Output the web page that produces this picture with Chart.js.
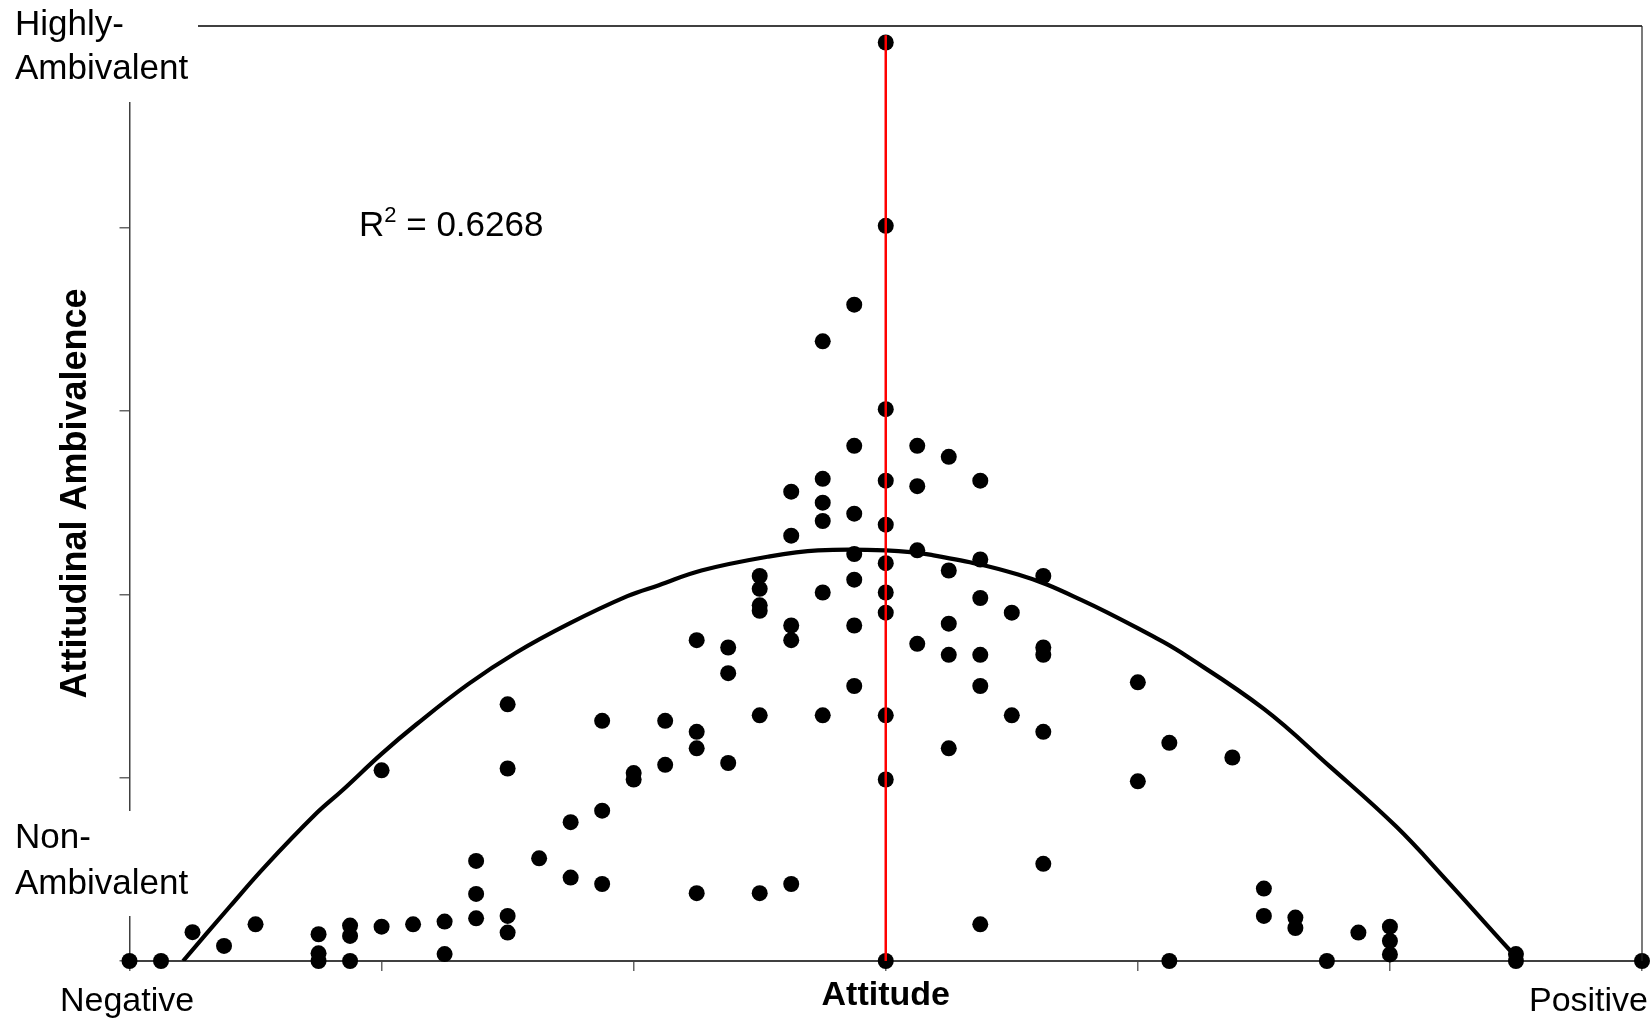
<!DOCTYPE html>
<html>
<head>
<meta charset="utf-8">
<script src="https://cdn.jsdelivr.net/npm/chart.js@4/dist/chart.umd.min.js"></script>
<style>
html,body{margin:0;padding:0;background:#fff;}
canvas{display:block;}
</style>
</head>
<body>
<canvas id="c" width="1650" height="1019"></canvas>
<script>
// ---- data (attitude in 1/8 steps, ambivalence in tick units) ----
const attitude = [
  -24,-23,-22,-21,-20,
  -18,-18,-18,
  -17,-17,-17,
  -16,-16,
  -15,
  -14,-14,
  -13,-13,-13,
  -12,-12,-12,-12,
  -11,
  -10,-10,
  -9,-9,-9,
  -8,-8,
  -7,-7,
  -6,-6,-6,-6,
  -5,-5,-5,
  -4,-4,-4,-4,-4,-4,
  -3,-3,-3,-3,-3,
  -2,-2,-2,-2,-2,-2,
  -1,-1,-1,-1,-1,-1,-1,
  0,0,0,0,0,0,0,0,0,0,0,
  1,1,1,1,
  2,2,2,2,2,
  3,3,3,3,3,3,
  4,4,
  5,5,5,5,5,
  8,8,
  9,9,
  11,
  12,12,
  13,13,
  14,
  15,
  16,16,16,
  20,20,
  24
];
const ambivalence = [
  0,0,0.157,0.082,0.20,
  0.146,0.042,0,
  0.193,0.137,0,
  0.187,1.04,
  0.20,
  0.215,0.038,
  0.546,0.366,0.233,
  1.40,1.05,0.246,0.155,
  0.56,
  0.757,0.455,
  1.31,0.82,0.42,
  1.025,0.99,
  1.31,1.07,
  1.75,1.25,1.16,0.37,
  1.71,1.57,1.08,
  2.10,2.03,1.94,1.91,1.34,0.37,
  2.56,2.32,1.83,1.75,0.42,
  3.38,2.63,2.50,2.40,2.01,1.34,
  3.58,2.81,2.44,2.22,2.08,1.83,1.50,
  5.01,4.01,3.01,2.62,2.38,2.17,2.01,1.90,1.34,0.99,0,
  2.81,2.59,2.24,1.73,
  2.75,2.13,1.84,1.67,1.16,
  2.62,2.19,1.98,1.67,1.50,0.20,
  1.90,1.34,
  2.10,1.71,1.67,1.25,0.53,
  1.52,0.98,
  1.19,0,
  1.11,
  0.395,0.246,
  0.237,0.18,
  0,
  0.155,
  0.187,0.109,0.036,
  0.038,0,
  0
];
// trend curve
const trendX = [-22.3,-20.8,-19.7,-18.1,-17.25,-16,-14.9,-13.25,-11.75,-10.05,-8.2,-7.2,-5.85,-3.75,-2.15,0,1.45,4.2,6.2,8.6,9.35,12,14.1,16.2,17.8,19.8,20];
const trendY = [0,0.3,0.515,0.8,0.93,1.13,1.29,1.51,1.68,1.84,1.99,2.05,2.13,2.205,2.24,2.24,2.215,2.108,1.97,1.76,1.685,1.375,1.06,0.733,0.44,0.06,0.03];
// red reference line at neutral attitude
const refX = [0, 0];
const refY = [0, 5.05];
// axis ticks
const xTicks = [-24,-16,-8,0,8,16,24];
const yTicks = [0,1,2,3,4,5];
// texts
const xTitle = 'Attitude';
const yTitle = 'Attitudinal Ambivalence';
const topLabel = ['Highly-', 'Ambivalent'];
const bottomLabel = ['Non-', 'Ambivalent'];
const negLabel = 'Negative';
const posLabel = 'Positive';
const r2Parts = ['R', '2', ' = 0.6268'];

const toPts = (xs, ys) => xs.map((x, i) => ({x: x, y: ys[i]}));
const FONT = "'Liberation Sans', Arial, Helvetica, sans-serif";

const decor = {
  id: 'decor',
  afterDraw(chart) {
    const ctx = chart.ctx;
    const a = chart.chartArea;
    ctx.save();
    // top and right frame
    ctx.strokeStyle = '#000';
    ctx.lineWidth = 1.5;
    ctx.beginPath(); ctx.moveTo(a.left, a.top); ctx.lineTo(a.right, a.top); ctx.stroke();
    ctx.strokeStyle = '#222';
    ctx.lineWidth = 1.2;
    ctx.beginPath(); ctx.moveTo(a.right, a.top); ctx.lineTo(a.right, a.bottom); ctx.stroke();
    // label boxes
    ctx.fillStyle = '#fff';
    ctx.fillRect(0, 0, 198, 102);
    ctx.fillRect(0, 811, 192, 105);
    ctx.fillStyle = '#000';
    ctx.font = '35px ' + FONT;
    ctx.textAlign = 'left';
    ctx.textBaseline = 'alphabetic';
    ctx.fillText(topLabel[0], 15, 35);
    ctx.fillText(topLabel[1], 15, 79);
    ctx.fillText(bottomLabel[0], 15, 848);
    ctx.fillText(bottomLabel[1], 15, 894);
    ctx.font = '34px ' + FONT;
    ctx.fillText(negLabel, 60, 1011);
    ctx.textAlign = 'right';
    ctx.fillText(posLabel, 1648, 1011);
    // R^2 annotation
    ctx.textAlign = 'left';
    ctx.font = '35px ' + FONT;
    let x = 359;
    ctx.fillText(r2Parts[0], x, 236);
    x += ctx.measureText(r2Parts[0]).width;
    ctx.font = '22px ' + FONT;
    ctx.fillText(r2Parts[1], x, 222);
    x += ctx.measureText(r2Parts[1]).width;
    ctx.font = '35px ' + FONT;
    ctx.fillText(r2Parts[2], x, 236);
    ctx.restore();
  }
};

new Chart(document.getElementById('c'), {
  type: 'scatter',
  data: {
    datasets: [
      {
        label: 'ref',
        type: 'line',
        data: toPts(refX, refY),
        borderColor: '#ff0000',
        borderWidth: 2.5,
        pointRadius: 0,
        order: 0
      },
      {
        label: 'trend',
        data: toPts(trendX, trendY),
        showLine: true,
        borderColor: '#000',
        borderWidth: 4.2,
        pointRadius: 0,
        tension: 0.4,
        order: 1
      },
      {
        label: 'data',
        data: toPts(attitude, ambivalence),
        backgroundColor: '#000',
        borderColor: '#000',
        borderWidth: 0,
        pointRadius: 8,
        pointHoverRadius: 8,
        clip: false,
        order: 2
      }
    ]
  },
  options: {
    responsive: false,
    animation: false,
    devicePixelRatio: 1,
    layout: { padding: { top: 26, right: 6, left: 0, bottom: 0 } },
    plugins: { legend: { display: false }, tooltip: { enabled: false } },
    scales: {
      x: {
        type: 'linear',
        min: -24, max: 24,
        afterBuildTicks: s => { s.ticks = xTicks.map(v => ({value: v})); },
        ticks: { display: false },
        grid: { drawOnChartArea: false, drawTicks: true, tickLength: 10, color: '#666', lineWidth: 1.5 },
        border: { display: true, color: '#404040', width: 2 },
        title: { display: true, text: xTitle, color: '#000',
                 font: { family: FONT, size: 34, weight: 'bold' },
                 padding: { top: 4.2, bottom: 3 } }
      },
      y: {
        type: 'linear',
        min: 0, max: 5.1,
        afterBuildTicks: s => { s.ticks = yTicks.map(v => ({value: v})); },
        ticks: { display: false },
        grid: { drawOnChartArea: false, drawTicks: true, tickLength: 10, color: '#666', lineWidth: 1.5 },
        border: { display: true, color: '#404040', width: 1.5 },
        title: { display: true, text: yTitle, color: '#000',
                 font: { family: FONT, size: 36, weight: 'bold' },
                 padding: { top: 54.4, bottom: 21.9 } }
      }
    }
  },
  plugins: [decor]
});
</script>
</body>
</html>
